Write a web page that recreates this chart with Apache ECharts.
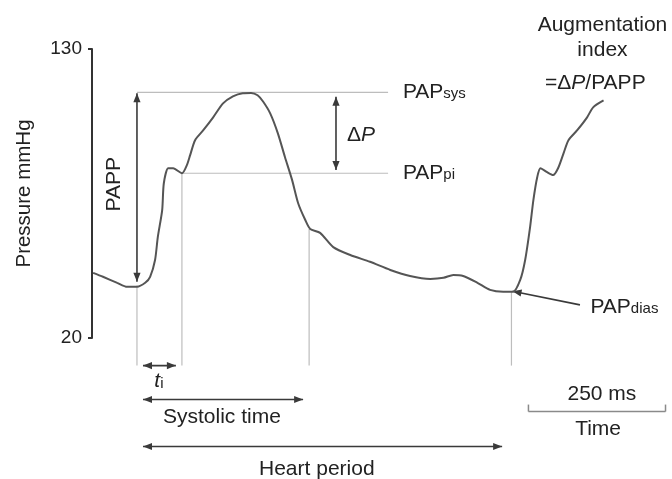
<!DOCTYPE html>
<html>
<head>
<meta charset="utf-8">
<script src="https://cdn.jsdelivr.net/npm/echarts@6/dist/echarts.min.js"></script>
<style>
  html, body { margin: 0; padding: 0; background: #fff; }
  #chart { width: 672px; height: 479px; }
</style>
</head>
<body>
<div id="chart"></div>
<script>
// pressure trace: time (ms) vs pressure (mmHg)
const timeMs = [2, 20, 46, 64, 82, 97, 106, 115, 120, 128, 131, 139, 148, 164, 173, 179, 188, 203, 221, 239,
  257, 275, 290, 302, 312, 325, 339, 352, 365, 376, 389, 398, 416, 440, 471, 507, 544, 580, 617, 641, 659,
  677, 703, 726, 750, 768, 781, 790, 799, 805, 812, 818, 830, 841, 850, 860, 869, 885, 903, 914, 933];
const pressure = [44.8, 43.3, 41.0, 39.5, 39.5, 41.0, 43.3, 49.7, 58.4, 68.7, 78.9, 84.6, 84.6, 82.7, 85.8, 89.6, 95.3, 99.1, 104.0, 109.3,
  112.0, 113.2, 113.3, 112.4, 110.0, 105.5, 97.9, 88.8, 80.1, 71.3, 64.9, 61.5, 60.0, 54.6, 51.6, 49.0, 45.9, 43.6, 42.5, 42.9, 44.0,
  43.6, 41.0, 38.3, 37.6, 37.6, 42.1, 49.7, 62.2, 72.5, 81.2, 84.6, 83.1, 82.0, 84.6, 90.3, 95.3, 99.1, 104.0, 107.8, 110.4];
const yTicks = [20, 130];

// annotation levels (mmHg) and times (ms)
const papSys = 113.5;
const papPi = 82.7;
const papDias = 37.8;
const footTime = 82;
const inflectionTime = 164;
const notchTime = 396;
const endDiastoleTime = 765;
const guideEndTime = 540;
const deltaPTime = 445;
const scaleBarMs = [796, 1046];

const FONT = '"Liberation Sans", Arial, sans-serif';
const TEXT = '#222';
const GUIDE = '#bdbdbd';
const ARROW = '#3a3a3a';

const chart = echarts.init(document.getElementById('chart'));

chart.setOption({
  animation: false,
  grid: { left: 92, right: 1, top: 49, bottom: 141 },
  xAxis: { type: 'value', min: 0, max: 1056, show: false },
  yAxis: {
    type: 'value', min: 20, max: 130,
    name: 'Pressure mmHg', nameLocation: 'middle', nameGap: 57,
    nameTextStyle: { fontFamily: FONT, fontSize: 20.5, color: TEXT },
    axisLine: { show: true, lineStyle: { color: '#333', width: 2 } },
    axisTick: { show: true, length: 4, lineStyle: { color: '#333', width: 2 }, customValues: yTicks },
    axisLabel: { fontFamily: FONT, fontSize: 19, color: TEXT, margin: 10, customValues: yTicks },
    splitLine: { show: false }
  },
  series: [{
    type: 'line',
    data: timeMs.map((t, i) => [t, pressure[i]]),
    smooth: 0.25,
    symbol: 'none',
    lineStyle: { color: '#555', width: 2 },
    clip: false
  }]
});

const px = (t, v) => chart.convertToPixel({ xAxisIndex: 0, yAxisIndex: 0 }, [t, v]);

const elements = [];

function line(a, b, color, width) {
  elements.push({
    type: 'line', silent: true,
    shape: { x1: a[0], y1: a[1], x2: b[0], y2: b[1] },
    style: { stroke: color, lineWidth: width }
  });
}

function head(from, tip, color) {
  const dx = tip[0] - from[0], dy = tip[1] - from[1];
  const len = Math.sqrt(dx * dx + dy * dy);
  const ux = dx / len, uy = dy / len;
  const L = 9, W = 3.6;
  const bx = tip[0] - ux * L, by = tip[1] - uy * L;
  elements.push({
    type: 'polygon', silent: true,
    shape: { points: [tip, [bx - uy * W, by + ux * W], [bx + uy * W, by - ux * W]] },
    style: { fill: color }
  });
}

function arrow(a, b, both) {
  line(a, b, ARROW, 1.6);
  head(a, b, ARROW);
  if (both) head(b, a, ARROW);
}

function label(pos, text, opts) {
  elements.push(Object.assign({
    type: 'text', silent: true, x: pos[0], y: pos[1],
    style: Object.assign({
      text: text, font: '21px ' + FONT, fill: TEXT,
      align: 'center', verticalAlign: 'middle'
    }, opts && opts.style)
  }, opts && opts.el));
}

const sub = {
  big: { fontFamily: FONT, fontSize: 21, color: TEXT, verticalAlign: 'bottom' },
  small: { fontFamily: FONT, fontSize: 15, color: TEXT, verticalAlign: 'bottom', padding: [0, 0, 1, 0] },
  it: { fontFamily: FONT, fontSize: 21, color: TEXT, fontStyle: 'italic', verticalAlign: 'bottom' }
};

// guide lines
line(px(footTime, papSys), px(guideEndTime, papSys), GUIDE, 1.2);
line(px(inflectionTime, papPi), px(guideEndTime, papPi), GUIDE, 1.2);
line(px(footTime, 40), px(footTime, 9.5), GUIDE, 1.2);
line(px(inflectionTime, papPi), px(inflectionTime, 9.5), GUIDE, 1.2);
line(px(notchTime, 61.5), px(notchTime, 9.5), GUIDE, 1.2);
line(px(endDiastoleTime, papDias), px(endDiastoleTime, 9.5), GUIDE, 1.2);

// PAPP and delta P arrows
arrow(px(footTime, 113.2), px(footTime, 41.4), true);
arrow(px(deltaPTime, 111.8), px(deltaPTime, 83.9), true);

// PAPdias pointer
arrow(px(890, 32.6), px(endDiastoleTime + 2, papDias), false);

// timing arrows below the trace
arrow(px(93, 9.5), px(153, 9.5), true);
arrow(px(93, -3.4), px(385, -3.4), true);
arrow(px(93, -21.3), px(748, -21.3), true);

// 250 ms scale bar
const s0 = px(scaleBarMs[0], -8), s1 = px(scaleBarMs[1], -8);
line(s0, s1, '#8a8a8a', 1.5);
line(s0, [s0[0], s0[1] - 7], '#8a8a8a', 1.5);
line(s1, [s1[0], s1[1] - 7], '#8a8a8a', 1.5);

// labels
label(px(40, 78.5), 'PAPP', { el: { rotation: Math.PI / 2 } });
label(px(465, 97.1), '{big|Δ}{it|P}', { style: { align: 'left', rich: sub } });
label(px(567, papSys), '{big|PAP}{small|sys}', { style: { align: 'left', rich: sub } });
label(px(567, papPi), '{big|PAP}{small|pi}', { style: { align: 'left', rich: sub } });
label(px(909, 31.9), '{big|PAP}{small|dias}', { style: { align: 'left', rich: sub } });
label(px(931, 138.9), 'Augmentation');
label(px(931, 129.4), 'index');
label(px(918, 116.9), '{big|=Δ}{it|P}{big|/PAPP}', { style: { rich: sub } });
label(px(122, 3.4), '{it|t}{small|i}', { style: { rich: sub } });
label(px(237, -10.2), 'Systolic time');
label(px(410, -30), 'Heart period');
label(px(930, -1.5), '250 ms');
label(px(923, -14.8), 'Time');

chart.setOption({ graphic: { elements: elements } });
</script>
</body>
</html>
